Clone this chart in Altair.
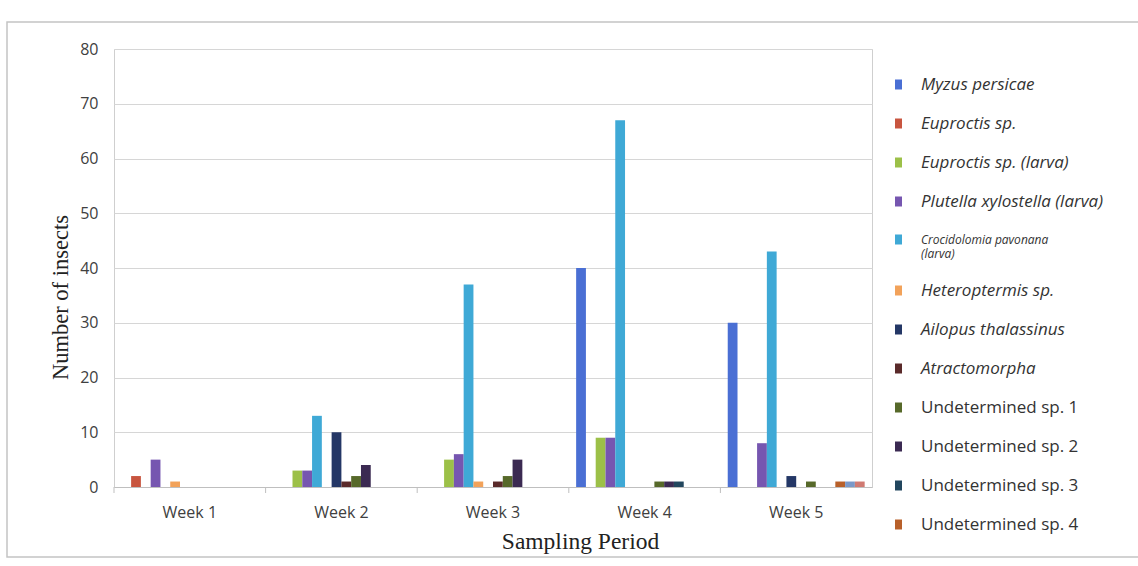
import altair as alt
import pandas as pd

weeks = ["Week 1", "Week 2", "Week 3", "Week 4", "Week 5"]

series = [
    "Myzus persicae",
    "Euproctis sp.",
    "Euproctis sp. (larva)",
    "Plutella xylostella (larva)",
    "Crocidolomia pavonana (larva)",
    "Heteroptermis sp.",
    "Ailopus thalassinus",
    "Atractomorpha",
    "Undetermined sp. 1",
    "Undetermined sp. 2",
    "Undetermined sp. 3",
    "Undetermined sp. 4",
    "Undetermined sp. 5",
    "Undetermined sp. 6",
]

colors = [
    "#4a6fd4", "#c8553f", "#9cc048", "#7656b0", "#3fa9d6", "#f2a25a",
    "#243766", "#5a2a2a", "#57692a", "#3b2a52", "#22465e", "#b8602a",
    "#7a98c8", "#d07a72",
]

myzus_persicae = [0, 0, 0, 40, 30]
euproctis = [2, 0, 0, 0, 0]
euproctis_larva = [0, 3, 5, 9, 0]
plutella_larva = [5, 3, 6, 9, 8]
crocidolomia_larva = [0, 13, 37, 67, 43]
heteroptermis = [1, 0, 1, 0, 0]
ailopus = [0, 10, 0, 0, 2]
atractomorpha = [0, 1, 1, 0, 0]
undetermined_1 = [0, 2, 2, 1, 1]
undetermined_2 = [0, 4, 5, 1, 0]
undetermined_3 = [0, 0, 0, 1, 0]
undetermined_4 = [0, 0, 0, 0, 1]
undetermined_5 = [0, 0, 0, 0, 1]
undetermined_6 = [0, 0, 0, 0, 1]

values = [
    myzus_persicae, euproctis, euproctis_larva, plutella_larva,
    crocidolomia_larva, heteroptermis, ailopus, atractomorpha,
    undetermined_1, undetermined_2, undetermined_3, undetermined_4,
    undetermined_5, undetermined_6,
]

rows = []
for s, vals in zip(series, values):
    for w, v in zip(weeks, vals):
        rows.append({"week": w, "series": s, "count": v})
df = pd.DataFrame(rows)

W, H = 758, 438
FONT = "Open Sans"
SERIF = "Liberation Serif"

bars = alt.Chart(df).mark_bar().encode(
    x=alt.X(
        "week:N",
        sort=weeks,
        scale=alt.Scale(paddingInner=0, paddingOuter=0),
        axis=alt.Axis(
            title="Sampling Period",
            titleFont=SERIF,
            titleFontSize=23.5,
            titleFontWeight="normal",
            titleColor="#222222",
            titleX=466,
            titleY=54,
            titleAlign="center",
            titleBaseline="middle",
            labelAngle=0,
            labelFont=FONT,
            labelFontSize=16,
            labelColor="#404040",
            labelPadding=17,
            ticks=False,
            domainColor="#bfbfbf",
        ),
    ),
    xOffset=alt.XOffset(
        "series:N",
        sort=series,
        scale=alt.Scale(domain=series, paddingInner=0, paddingOuter=0.75),
    ),
    y=alt.Y(
        "count:Q",
        scale=alt.Scale(domain=[0, 80]),
        axis=alt.Axis(
            title="Number of insects",
            titleFont=SERIF,
            titleFontSize=22.5,
            titleFontWeight="normal",
            titleColor="#222222",
            titleX=-54,
            titleY=248,
            titleAlign="center",
            titleBaseline="middle",
            values=list(range(0, 81, 10)),
            labelFont=FONT,
            labelFontSize=16,
            labelColor="#404040",
            labelPadding=16,
            ticks=False,
            domain=False,
            gridColor="#d6d6d6",
        ),
    ),
    color=alt.Color(
        "series:N",
        sort=series,
        scale=alt.Scale(domain=series, range=colors),
        legend=alt.Legend(
            title=None,
            orient="none",
            legendX=776,
            legendY=27,
            values=series[:12],
            symbolType="M-0.7,-1L0.7,-1L0.7,1L-0.7,1Z",
            symbolSize=100,
            symbolStrokeWidth=0,
            labelFont=FONT,
            labelFontSize=alt.ExprRef("datum.label == 'Crocidolomia pavonana (larva)' ? 12 : 17"),
            labelColor="#333333",
            labelOffset=14,
            labelLimit=400,
            rowPadding=21,
            labelExpr="datum.label == 'Crocidolomia pavonana (larva)' ? ['Crocidolomia pavonana', '(larva)'] : datum.label",
            labelFontStyle=alt.ExprRef("indexof(datum.label, 'Undetermined') == 0 ? 'normal' : 'italic'"),
        ),
    ),
)

ticks = alt.Chart(pd.DataFrame({"week": weeks})).mark_rule(color="#bfbfbf").encode(
    x=alt.X("week:N", sort=weeks, bandPosition=0),
    y=alt.value(H),
    y2=alt.value(H + 6),
)

frame = alt.Chart(pd.DataFrame({"a": [0]})).mark_rect(
    fill="transparent", stroke="#c4c4c4", strokeWidth=1.5
).encode(
    x=alt.value(-107),
    x2=alt.value(1070),
    y=alt.value(-27),
    y2=alt.value(508),
)

chart = alt.layer(frame, bars, ticks).properties(
    width=W,
    height=H,
    autosize="none",
    padding={"left": 114, "top": 49, "right": 266, "bottom": 79},
    background="white",
).configure_view(stroke="#cfcfcf")

chart.save("out.html", embed_options={"renderer": "svg", "actions": False})
